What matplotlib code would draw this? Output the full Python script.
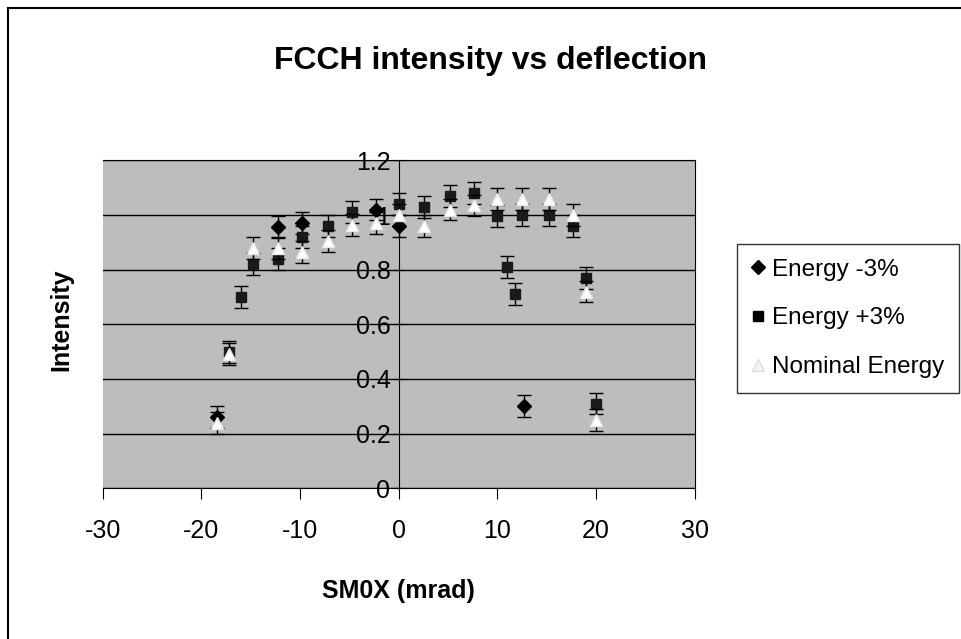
import matplotlib
matplotlib.use("Agg")
import matplotlib.pyplot as plt
from matplotlib.lines import Line2D

plt.rcParams['font.family'] = ['Liberation Sans Narrow', 'Liberation Sans', 'DejaVu Sans']
plt.rcParams['axes.unicode_minus'] = False

# deflection (mrad) and relative intensity
minus3_x = [-18.4, -12.2, -9.8, -2.3, 0.0, 12.7]
minus3_y = [0.26, 0.955, 0.97, 1.02, 0.96, 0.30]

plus3_x = [-17.2, -16.0, -14.8, -12.2, -9.8, -7.2, -4.7, 0.0, 2.6, 5.2, 7.6,
           10.0, 11.0, 11.8, 12.5, 15.2, 17.7, 19.0, 20.0]
plus3_y = [0.50, 0.70, 0.82, 0.84, 0.92, 0.96, 1.01, 1.04, 1.03, 1.07, 1.08,
           0.995, 0.81, 0.71, 1.00, 1.00, 0.96, 0.77, 0.31]

nominal_x = [-18.4, -17.2, -14.8, -12.2, -9.8, -7.2, -4.7, -2.3, 0.0, 2.6, 5.2,
             7.6, 10.0, 12.5, 15.2, 17.7, 19.0, 20.0]
nominal_y = [0.24, 0.49, 0.88, 0.88, 0.865, 0.905, 0.965, 0.97, 1.00, 0.96, 1.02,
             1.035, 1.06, 1.06, 1.06, 1.00, 0.72, 0.25]

error_bar = 0.04

x_ticks = [-30, -20, -10, 0, 10, 20, 30]
y_ticks = [0, 0.2, 0.4, 0.6, 0.8, 1.0, 1.2]
y_labels = ['0', '0.2', '0.4', '0.6', '0.8', '1', '1.2']

fig = plt.figure(figsize=(9.61, 6.39), dpi=100)
fig.patch.set_facecolor('white')
ax = fig.add_axes([0.107, 0.236, 0.616, 0.513])
ax.set_facecolor('#bdbdbd')

ax.errorbar(minus3_x, minus3_y, yerr=error_bar, fmt='D', ms=7, color='black',
            ecolor='black', elinewidth=1, capsize=5, zorder=3)
ax.errorbar(plus3_x, plus3_y, yerr=error_bar, fmt='s', ms=7, color='#1a1a1a',
            ecolor='black', elinewidth=1, capsize=5, zorder=4)
ax.errorbar(nominal_x, nominal_y, yerr=error_bar, fmt='^', ms=9, mfc='white',
            mec='#e8e8e8', ecolor='black', elinewidth=1, capsize=5, zorder=5)

ax.set_xlim(-30, 30)
ax.set_ylim(0, 1.2)
ax.set_xticks(x_ticks)
ax.set_yticks(y_ticks)
ax.set_yticklabels(y_labels)
ax.grid(axis='y', color='black', linewidth=1)
ax.set_axisbelow(True)

ax.spines['left'].set_position(('data', 0))
for s in ['top', 'right', 'bottom']:
    ax.spines[s].set_color('black')
ax.tick_params(axis='y', direction='inout', length=8, labelsize=18, pad=2)
ax.tick_params(axis='x', direction='out', length=8, labelsize=18, pad=14)

fig.text(0.51, 0.905, 'FCCH intensity vs deflection', ha='center', va='center',
         fontsize=23, fontweight='bold')
ax.set_xlabel('SM0X (mrad)', fontsize=18, fontweight='bold', labelpad=26)
fig.text(0.064, 0.50, 'Intensity', ha='center', va='center', rotation=90,
         fontsize=18, fontweight='bold')

handles = [
    Line2D([], [], ls='none', marker='D', ms=7, color='black'),
    Line2D([], [], ls='none', marker='s', ms=7, color='black'),
    Line2D([], [], ls='none', marker='^', ms=8, mfc='#f4f4f4', mec='#dddddd'),
]
labels = ['Energy -3%', 'Energy +3%', 'Nominal Energy']
leg = fig.legend(handles, labels, loc='upper left', bbox_to_anchor=(0.767, 0.618),
                 frameon=True, fontsize=17.5, handlelength=0.5, handletextpad=0.35,
                 labelspacing=1.1, borderpad=0.6, borderaxespad=0, fancybox=False)
leg.get_frame().set_edgecolor('black')
leg.get_frame().set_linewidth(1)

# outer chart border (top and left edges visible in the scan)
fig.add_artist(Line2D([0.008, 1.0], [0.987, 0.987], transform=fig.transFigure,
                      color='black', linewidth=1.5))
fig.add_artist(Line2D([0.008, 0.008], [0.0, 0.987], transform=fig.transFigure,
                      color='black', linewidth=1.5))

fig.savefig('out.png', dpi=100)
